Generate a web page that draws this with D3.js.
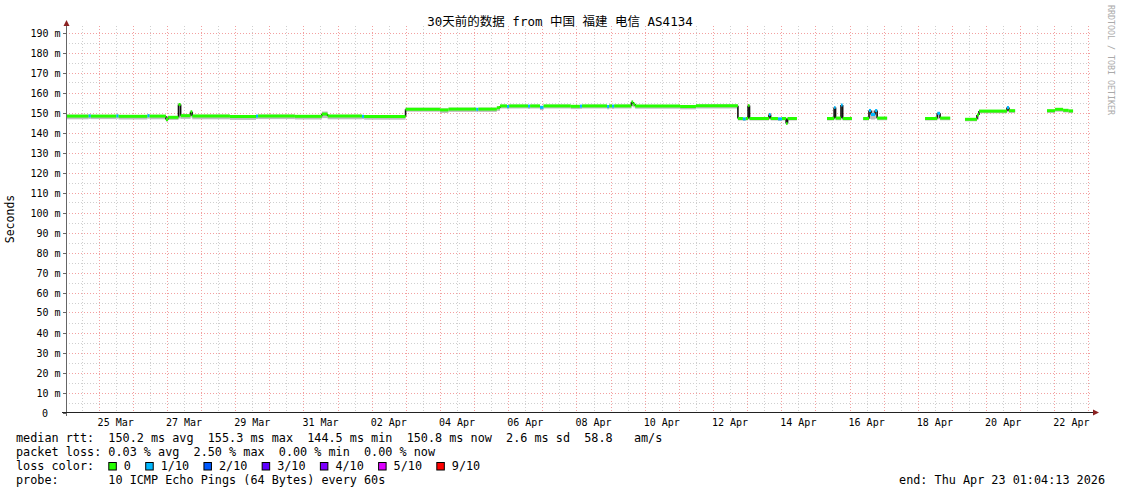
<!DOCTYPE html>
<html><head><meta charset="utf-8">
<script src="https://cdn.jsdelivr.net/npm/d3@7"></script>
<style>
html,body{margin:0;padding:0;background:#fff;}
svg{display:block;}
text{font-family:"DejaVu Sans Mono","Noto Sans CJK SC",monospace;fill:#000;}
</style></head>
<body>
<svg id="chart" width="1121" height="494"></svg>
<script>
// ---------- data ----------
const title = "30天前的数据 from 中国 福建 电信 AS4134";
const yLabel = "Seconds";
const startTime = "2026-03-24 01:04:13";
const endTime = "2026-04-23 01:04:13";
const xTickLabels = ["25 Mar","27 Mar","29 Mar","31 Mar","02 Apr","04 Apr","06 Apr","08 Apr","10 Apr","12 Apr","14 Apr","16 Apr","18 Apr","20 Apr","22 Apr"];
const yTickValues = [0,10,20,30,40,50,60,70,80,90,100,110,120,130,140,150,160,170,180,190];

const times = ["03-24 01:04","03-24 17:00","03-24 18:30","03-25 12:30","03-25 14:00","03-26 10:20","03-26 11:50","03-26 23:20","03-27 00:50","03-27 08:10",
"03-27 09:40","03-27 16:40","03-27 17:50","03-28 20:20","03-29 14:40","03-29 16:10","03-30 18:00","03-31 13:00","03-31 17:00","04-01 17:10",
"04-01 18:40","04-02 23:50","04-04 00:00","04-04 06:00","04-05 01:30","04-05 03:00","04-05 16:00","04-05 18:15","04-05 23:10","04-06 00:40",
"04-06 13:55","04-06 15:25","04-06 22:20","04-07 00:50","04-07 20:00","04-08 02:25","04-08 03:55","04-08 21:30","04-08 23:00","04-09 01:00",
"04-09 02:30","04-09 14:40","04-09 15:50","04-09 17:15","04-11 00:50","04-11 12:00","04-12 17:30","04-12 21:00","04-12 23:00","04-13 00:40",
"04-13 01:40","04-13 15:20","04-13 16:30","04-13 21:40","04-14 00:30","04-14 03:25","04-14 04:25","04-14 11:00","04-15 08:10","04-15 13:10",
"04-15 14:10","04-15 18:00","04-15 19:10","04-16 01:40","04-16 09:35","04-16 13:40","04-16 15:05","04-16 18:00","04-16 19:25","04-17 02:25",
"04-18 05:05","04-18 13:40","04-18 15:40","04-18 22:45","04-19 09:10","04-19 17:35","04-19 19:00","04-20 14:40","04-20 16:05","04-20 20:25",
"04-21 18:50","04-22 00:30","04-22 06:10","04-22 10:00","04-22 13:10"];
const median = [148.2,148.3,148.2,148.3,148.1,148.4,148.2,146.5,147.6,154.0,
148.4,150.4,148.3,148.0,148.2,148.3,148.1,149.2,148.2,148.1,
148.0,151.6,151.3,151.7,151.6,151.7,152.4,153.3,153.0,153.3,
153.2,153.3,152.6,153.3,153.1,153.2,153.3,153.0,153.3,153.2,
153.3,155.3,154.2,153.2,153.0,153.4,147.0,146.8,147.0,153.5,
147.0,149.0,147.0,146.8,147.0,144.5,147.0,null,147.0,152.5,
147.2,153.7,147.0,null,147.0,151.0,149.0,151.0,147.2,null,
147.0,149.6,147.2,null,146.6,148.8,150.7,152.5,150.9,null,
150.9,151.6,151.1,150.8,null];
const loss = [0,1,0,1,0,1,0,0,0,0,
0,0,0,0,1,0,0,0,0,1,
0,0,0,0,1,0,0,0,1,0,
1,0,1,0,0,1,0,1,0,1,
0,0,0,0,0,0,0,1,0,0,
0,1,0,1,0,0,0,null,0,1,
0,1,0,null,0,1,1,1,0,null,
0,1,0,null,0,0,0,1,0,null,
0,0,0,0,null];
const smokeLo = [146.6,146.8,146.7,146.9,146.5,146.9,146.6,145.4,146.3,147.0,
146.8,147.5,146.6,146.3,146.7,146.7,146.5,147.2,146.6,146.7,
146.4,150.4,149.8,150.3,150.2,150.3,150.8,152.0,151.6,152.0,
151.8,152.0,151.2,152.0,151.7,151.8,152.0,151.6,152.0,151.8,
152.0,153.0,152.6,151.9,151.6,152.0,146.0,145.8,146.0,146.5,
146.0,146.5,146.0,145.8,146.0,144.2,146.0,null,146.0,146.5,
146.1,146.5,146.0,null,146.0,146.8,146.5,146.8,146.1,null,
146.0,146.6,146.1,null,145.6,146.5,149.6,150.2,149.8,null,
149.8,150.4,150.0,149.7,null];
const smokeHi = [148.9,149.0,148.8,149.0,148.7,149.1,148.8,147.3,148.2,154.3,
149.2,150.8,148.9,148.6,148.8,148.9,148.7,150.5,148.8,148.7,
148.6,152.4,152.0,152.4,152.2,152.4,152.9,153.9,153.6,153.9,
153.8,153.9,153.2,153.9,153.7,153.8,153.9,153.6,153.9,153.8,
153.9,155.6,154.6,153.8,153.6,154.0,147.6,147.4,147.6,153.8,
147.6,149.4,147.6,147.4,147.6,147.0,147.6,null,147.6,152.8,
147.8,154.0,147.6,null,147.6,151.8,151.0,151.5,147.8,null,
147.6,149.9,147.8,null,147.2,149.3,151.3,152.8,151.5,null,
151.5,152.1,151.7,151.4,null];

const lossLevels = [0,1,2,3,4,5,9];
const lossLabels = ["0","1/10","2/10","3/10","4/10","5/10","9/10"];
const lossColors = ["#26ff00","#00b8ff","#0059ff","#5e00ff","#7e00ff","#dd00ff","#ff0000"];

const legendLines = [
  "median rtt:  150.2 ms avg  155.3 ms max  144.5 ms min  150.8 ms now  2.6 ms sd  58.8   am/s",
  "packet loss: 0.03 % avg  2.50 % max  0.00 % min  0.00 % now",
  "loss color:",
  "probe:       10 ICMP Echo Pings (64 Bytes) every 60s"
];
const endLabel = "end: Thu Apr 23 01:04:13 2026";
const watermark = "RRDTOOL / TOBI OETIKER";

// ---------- drawing ----------
const svg = d3.select("#chart");
const parseFull = d3.timeParse("%Y-%m-%d %H:%M:%S");
const parseShort = d3.timeParse("%Y-%m-%d %H:%M");
const t0 = parseFull(startTime), t1 = parseFull(endTime);
const data = times.map((t,i)=>({t:parseShort("2026-"+t), m:median[i], l:loss[i], lo:smokeLo[i], hi:smokeHi[i]}));

const x = d3.scaleTime().domain([t0,t1]).range([66,1090]);
const y = d3.scaleLinear().domain([0,193]).range([412.5,26.5]);
const plotTop = 26, plotBottom = 412.5, plotLeft = 66, plotRight = 1092;

// grid
const g = svg.append("g");
const days = d3.timeDay.range(d3.timeDay.ceil(t0), t1);
const halfDays = d3.timeHour.every(12).range(t0, t1).filter(d=>d.getHours()===12);
halfDays.forEach(d=>{
  const xx = Math.round(x(d))+0.5;
  g.append("line").attr("x1",xx).attr("x2",xx).attr("y1",plotTop).attr("y2",plotBottom)
   .attr("stroke","#cfcfcf").attr("stroke-dasharray","1,2");
});
const minorY = d3.range(5,195,10);
minorY.forEach(v=>{
  const yy = Math.round(y(v))+0.5;
  g.append("line").attr("x1",plotLeft).attr("x2",plotRight).attr("y1",yy).attr("y2",yy)
   .attr("stroke","#cfcfcf").attr("stroke-dasharray","1,2");
});
days.forEach(d=>{
  const xx = Math.round(x(d))+0.5;
  g.append("line").attr("x1",xx).attr("x2",xx).attr("y1",plotTop).attr("y2",plotBottom)
   .attr("stroke","#f3a0a0").attr("stroke-dasharray","1,2");
});
yTickValues.filter(v=>v>0).forEach(v=>{
  const yy = Math.round(y(v))+0.5;
  g.append("line").attr("x1",plotLeft).attr("x2",plotRight).attr("y1",yy).attr("y2",yy)
   .attr("stroke","#f3a0a0").attr("stroke-dasharray","1,2");
});

// smoke
const marks = svg.append("g");
for (let i=0;i<data.length-1;i++){
  const d=data[i], n=data[i+1];
  if (d.m==null) continue;
  marks.append("rect").attr("x",x(d.t)).attr("width",Math.max(0.8,x(n.t)-x(d.t)))
    .attr("y",y(d.hi)).attr("height",y(d.lo)-y(d.hi)).attr("fill","#bdbdbd");
}
// connectors
for (let i=0;i<data.length-1;i++){
  const d=data[i], n=data[i+1];
  if (d.m==null || n.m==null) continue;
  if (Math.abs(d.m-n.m) < 0.9) continue;
  const xx = x(n.t);
  marks.append("line").attr("x1",xx).attr("x2",xx).attr("y1",y(d.m)).attr("y2",y(n.m))
    .attr("stroke","#111").attr("stroke-width",1.6);
}
// median colored
for (let i=0;i<data.length-1;i++){
  const d=data[i], n=data[i+1];
  if (d.m==null) continue;
  const c = lossColors[lossLevels.indexOf(d.l)];
  marks.append("line").attr("x1",x(d.t)).attr("x2",Math.max(x(n.t), x(d.t)+1.2))
    .attr("y1",y(d.m)).attr("y2",y(d.m)).attr("stroke",c).attr("stroke-width",3);
}

// axes
const ax = svg.append("g");
ax.append("line").attr("x1",66.5).attr("x2",66.5).attr("y1",26).attr("y2",416).attr("stroke","#666");
ax.append("line").attr("x1",62).attr("x2",1094).attr("y1",412.5).attr("y2",412.5).attr("stroke","#222");
ax.append("path").attr("d","M63.5,26 L69.5,26 L66.5,20 Z").attr("fill","#8b2222");
ax.append("path").attr("d","M1093,409.5 L1093,415.5 L1099,412.5 Z").attr("fill","#8b2222");
yTickValues.forEach(v=>{
  const yy = Math.round(y(v))+0.5;
  ax.append("line").attr("x1",63).attr("x2",66).attr("y1",yy).attr("y2",yy).attr("stroke","#666");
  ax.append("text").attr("x", v===0 ? 48 : 60.5).attr("y",yy+3.5).attr("text-anchor","end")
    .attr("font-size","10px").text(v===0 ? "0" : v+" m");
});
const labelDays = days.filter((d,i)=> i%2===0);
labelDays.forEach((d,i)=>{
  if (i>=xTickLabels.length) return;
  const xx = x(d3.timeHour.offset(d,12));
  ax.append("text").attr("x",xx).attr("y",425.5).attr("text-anchor","middle")
    .attr("font-size","10px").text(xTickLabels[i]);
});

// title / labels
svg.append("text").attr("x",560).attr("y",25.5).attr("text-anchor","middle")
  .attr("font-size","12.5px").text(title);
svg.append("text").attr("transform","translate(14,219) rotate(-90)").attr("text-anchor","middle")
  .attr("font-size","11.5px").text(yLabel);
svg.append("text").attr("transform","translate(1108,60) rotate(90)").attr("text-anchor","middle")
  .attr("font-size","8.3px").style("fill","#aaaaaa").text(watermark);

// legend
const cw = 7.1, lx = 16;
const baselines = [442, 456, 470, 484];
legendLines.forEach((s,i)=>{
  svg.append("text").attr("x",lx).attr("y",baselines[i]).attr("font-size","11.8px")
    .attr("xml:space","preserve").style("white-space","pre").text(s);
});
let col = 13;
lossLabels.forEach((lab,i)=>{
  const sx = lx + col*cw;
  svg.append("rect").attr("x",sx+0.5).attr("y",462.5).attr("width",7.5).attr("height",7.5)
    .attr("fill",lossColors[i]).attr("stroke","#000").attr("stroke-width",1);
  svg.append("text").attr("x",sx+15.5).attr("y",baselines[2]).attr("font-size","11.8px").text(lab);
  col += 2.2 + lab.length + 2;
});
svg.append("text").attr("x",1105).attr("y",baselines[3]).attr("text-anchor","end")
  .attr("font-size","11.8px").text(endLabel);
</script>
</body></html>
